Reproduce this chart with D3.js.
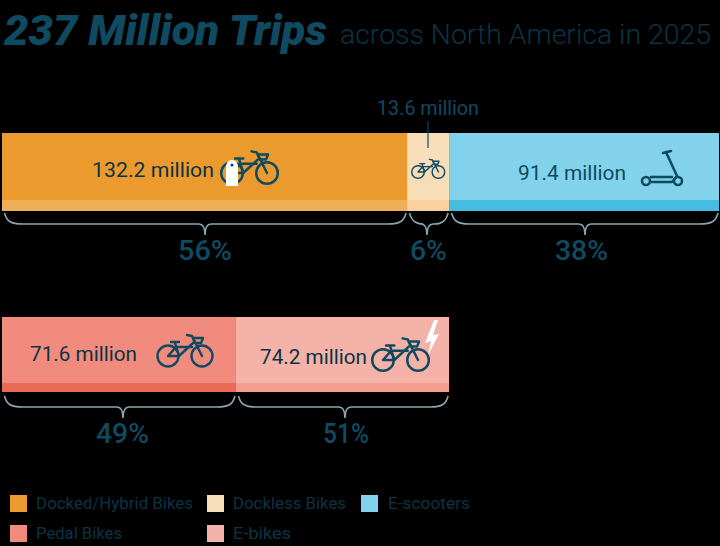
<!DOCTYPE html>
<html>
<head>
<meta charset="utf-8">
<script src="https://cdn.jsdelivr.net/npm/d3@7"></script>
<style>
  html, body { margin: 0; padding: 0; background: #000; }
  svg { display: block; }
</style>
</head>
<body>
<script>
// Data
var topCategories = ["Docked/Hybrid Bikes", "Dockless Bikes", "E-scooters"];
var topLabels = ["132.2 million", "13.6 million", "91.4 million"];
var topShares = ["56%", "6%", "38%"];
// bar lengths as drawn in the picture, in millions (not quite proportional to the labels)
var topLengths = [134.0, 13.9, 89.3];

var bottomCategories = ["Pedal Bikes", "E-bikes"];
var bottomLabels = ["71.6 million", "74.2 million"];
var bottomShares = ["49%", "51%"];
var bottomLengths = [77.4, 70.5];

var legendRows = [topCategories, bottomCategories];

var w = 720, h = 546;
var navy = "#0f4a60", dark = "#0b3344", brace = "#8ba6b0";

var fill = d3.scaleOrdinal()
  .domain(topCategories.concat(bottomCategories))
  .range(["#eb9a2d", "#f8ddb9", "#82d2eb", "#f08b7e", "#f4b2a9"]);
var strip = d3.scaleOrdinal()
  .domain(fill.domain())
  .range(["#efae58", "#f9d19f", "#46bce0", "#e96a55", "#f49e92"]);

var x = d3.scaleLinear().domain([0, 237.2]).range([2, 719]);

var svg = d3.select("body").append("svg")
  .attr("width", w)
  .attr("height", h)
  .style("background", "#000");

// text fitted to the width it has in the picture
function label(g, str, px, py, size, width, color, opts) {
  opts = opts || {};
  return g.append("text")
    .attr("x", px)
    .attr("y", py)
    .attr("fill", color)
    .attr("font-family", opts.family || "Roboto, sans-serif")
    .attr("font-size", size)
    .attr("font-weight", opts.weight || 400)
    .attr("font-style", opts.style || "normal")
    .attr("textLength", width)
    .attr("lengthAdjust", "spacingAndGlyphs")
    .text(str);
}

// Title
label(svg, "237 Million Trips", 4, 45, 42, 323, navy, {weight: 900, style: "italic"});
label(svg, "across North America in 2025", 340, 44, 27, 371, dark, {weight: 300});

// Bars
function stackRow(cats, lengths) {
  var sum = 0;
  return cats.map(function(c, i) {
    var d = {cat: c, x0: x(sum), x1: x(sum + lengths[i])};
    sum += lengths[i];
    return d;
  });
}

function drawRow(row, top, stripTop, bottom) {
  var g = svg.append("g");
  g.selectAll(".bar").data(row).enter().append("rect")
    .attr("class", "bar")
    .attr("x", function(d) { return d.x0; })
    .attr("y", top)
    .attr("width", function(d) { return d.x1 - d.x0; })
    .attr("height", stripTop - top)
    .attr("fill", function(d) { return fill(d.cat); });
  g.selectAll(".strip").data(row).enter().append("rect")
    .attr("class", "strip")
    .attr("x", function(d) { return d.x0; })
    .attr("y", stripTop)
    .attr("width", function(d) { return d.x1 - d.x0; })
    .attr("height", bottom - stripTop)
    .attr("fill", function(d) { return strip(d.cat); });
}

var topRow = stackRow(topCategories, topLengths);
var bottomRow = stackRow(bottomCategories, bottomLengths);
drawRow(topRow, 133, 200, 211);
drawRow(bottomRow, 317, 383, 392);

// Curly braces under the bars
function bracePath(x0, x1, xm, y0) {
  var r = Math.min(14, (x1 - x0) / 4), y1 = y0 + 11, y2 = y0 + 22;
  return "M" + x0 + "," + y0 +
    "C" + (x0 + 2) + "," + (y1 - 3) + " " + (x0 + 6) + "," + y1 + " " + (x0 + r + 4) + "," + y1 +
    "L" + (xm - 6) + "," + y1 +
    "C" + (xm - 2) + "," + y1 + " " + xm + "," + (y1 + 3) + " " + xm + "," + y2 +
    "C" + xm + "," + (y1 + 3) + " " + (xm + 2) + "," + y1 + " " + (xm + 6) + "," + y1 +
    "L" + (x1 - r - 4) + "," + y1 +
    "C" + (x1 - 6) + "," + y1 + " " + (x1 - 2) + "," + (y1 - 3) + " " + x1 + "," + y0;
}

function drawBraces(row, y0, ty, shares, tips, textX, widths) {
  row.forEach(function(d, i) {
    svg.append("path")
      .attr("d", bracePath(d.x0 + 2.5, d.x1 - 1, tips[i], y0))
      .attr("fill", "none")
      .attr("stroke", brace)
      .attr("stroke-width", 1.6);
    label(svg, shares[i], textX[i], ty, 28, widths[i], navy, {weight: 500});
  });
}
drawBraces(topRow, 213, 260, topShares, [205, 427, 585], [178, 410, 555], [54, 37, 53]);
drawBraces(bottomRow, 396, 443, bottomShares, [123, 345], [96, 323], [53, 46]);

// Value labels
label(svg, topLabels[0], 92, 177, 21, 122, dark);
label(svg, topLabels[1], 377, 115, 20, 102, navy);
label(svg, topLabels[2], 518, 180, 21, 108, navy);
label(svg, bottomLabels[0], 30, 361, 21, 107, dark);
label(svg, bottomLabels[1], 260, 364, 21, 107, dark);

// leader for the small segment
svg.append("line")
  .attr("x1", 428).attr("x2", 428)
  .attr("y1", 121).attr("y2", 148)
  .attr("stroke", navy)
  .attr("stroke-width", 1.2);

// Icons
function bike(px, py, k) {
  var g = svg.append("g")
    .attr("transform", "translate(" + px + "," + py + ") scale(" + k + ")")
    .attr("fill", "none")
    .attr("stroke", navy)
    .attr("stroke-width", 2.4)
    .attr("stroke-linejoin", "round")
    .attr("stroke-linecap", "round");
  g.append("circle").attr("cx", 0).attr("cy", 0).attr("r", 10.5);
  g.append("circle").attr("cx", 34).attr("cy", 0).attr("r", 10.5);
  g.append("path").attr("d", "M0,0L11,0L7,-13M3,-14L11,-14M0,0L8,-9L24,-9M11,0L25,-13");
  g.append("path").attr("d", "M34,0L24,-20L19,-21");
  g.append("path").attr("d", "M25,-18L35,-18L33,-13L27,-13Z");
}

function dock(px, py) {
  svg.append("path")
    .attr("d", "M" + (px - 6) + "," + (py + 13) + "L" + (px - 6) + "," + (py - 5) +
      "Q" + (px - 6) + "," + (py - 13) + " " + px + "," + (py - 13) +
      "Q" + (px + 6) + "," + (py - 13) + " " + (px + 6) + "," + (py - 5) +
      "L" + (px + 6) + "," + (py + 13) + "Z")
    .attr("fill", "#fff");
  svg.append("circle").attr("cx", px).attr("cy", py - 8).attr("r", 1.6).attr("fill", navy);
}

bike(232, 173, 1.03);
dock(232, 173);
bike(418, 172, 0.6);
bike(168, 356, 1);
bike(383, 360, 1.03);

// bolt for the e-bike
svg.append("path")
  .attr("d", "M434,320L425,343L431,341L428,355L439,334L433,335L438,320Z")
  .attr("fill", "#fff");

// scooter
var sc = svg.append("g")
  .attr("fill", "none")
  .attr("stroke", navy)
  .attr("stroke-width", 2.6)
  .attr("stroke-linecap", "round")
  .attr("stroke-linejoin", "round");
sc.append("circle").attr("cx", 646).attr("cy", 181).attr("r", 4);
sc.append("circle").attr("cx", 678).attr("cy", 181).attr("r", 4);
sc.append("path").attr("d", "M651,177L672,177M651,182L672,182L677,176L666,152M663,153L671,151");

// Legend
var legendX = [[10, 207, 361], [10, 207]];
var legendTextX = [[36, 233, 388], [36, 233]];
var legendW = [[157, 113, 82], [86, 58]];
var legendY = [495, 525];
legendRows.forEach(function(cats, r) {
  cats.forEach(function(c, i) {
    svg.append("rect")
      .attr("x", legendX[r][i])
      .attr("y", legendY[r])
      .attr("width", 17)
      .attr("height", 17)
      .attr("fill", fill(c));
    label(svg, c, legendTextX[r][i], legendY[r] + 14, 16, legendW[r][i], dark);
  });
});
</script>
</body>
</html>
